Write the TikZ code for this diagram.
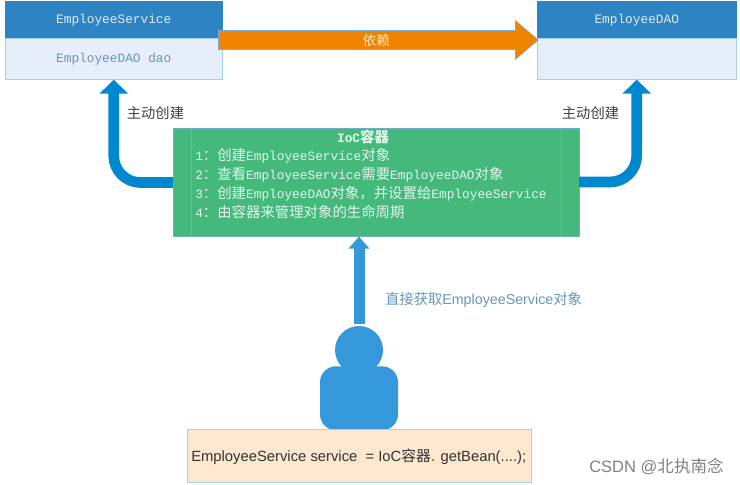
\documentclass[tikz,border=0pt]{standalone}
\usepackage{fontspec}
\usepackage{xcolor}
\usetikzlibrary{arrows.meta}
\setmainfont{Liberation Sans}
\newfontfamily\cjk{Noto Sans CJK SC}
\newfontfamily\codefont{Liberation Mono}
\newcommand{\cn}[1]{{\cjk #1}}
\newcommand{\wcn}[1]{{\cjk\fontsize{10.8}{11}\selectfont #1}}
\newcommand{\wcolon}{\wcn{\char"FF1A}}
\newcommand{\wcomma}{\wcn{\char"FF0C}}

\definecolor{headblue}{HTML}{2E83C3}
\definecolor{bodyblue}{HTML}{E6EEF9}
\definecolor{edgeblue}{HTML}{A9CFEF}
\definecolor{textblue}{HTML}{6596BC}
\definecolor{iocgreen}{HTML}{45B97C}
\definecolor{iocedge}{HTML}{6FB0C8}
\definecolor{createblue}{HTML}{0088CE}
\definecolor{userblue}{HTML}{3498DB}
\definecolor{codeorange}{HTML}{FDE8CF}
\definecolor{dependorange}{HTML}{F08300}

\tikzset{
  headbox/.style={draw=headblue, fill=headblue, text=white!85!headblue, anchor=north west, minimum height=27.75pt, inner sep=0pt, font=\codefont\fontsize{9.6}{11}\selectfont},
  bodybox/.style={draw=edgeblue, fill=bodyblue, text=textblue, anchor=north west, minimum height=30.75pt, inner sep=0pt, font=\codefont\fontsize{9.6}{11}\selectfont},
  createarrow/.style={draw=createblue, line width=8pt, rounded corners=20pt, -{Triangle[length=10.5pt,width=20.5pt]}},
  tiplabel/.style={text=black!75, font=\cjk\fontsize{10.7}{12}\selectfont},
  iocline/.style={text=white!85!iocgreen, anchor=west, inner sep=0pt, font=\codefont\fontsize{9.6}{11}\selectfont},
}

\begin{document}
\begin{tikzpicture}[x=0.75pt, y=-0.75pt]
\useasboundingbox (0,0) rectangle (740,485);

% left and right classes
\node[headbox, minimum width=162.75pt] (servicehead) at (5,1) {EmployeeService};
\node[bodybox, minimum width=162.75pt] (servicebody) at (5,38) {EmployeeDAO dao};
\node[headbox, minimum width=149.25pt] (daohead) at (537,1) {EmployeeDAO};
\node[bodybox, minimum width=149.25pt] (daobody) at (537,38) {};

% container
\node[draw=iocedge, fill=iocgreen, anchor=north west, minimum width=304.5pt, minimum height=81pt] (ioc) at (173,128) {};
\draw[iocedge] (191,128) -- (191,236);
\draw[iocedge] (561.5,128) -- (561.5,236);
\node[iocline, anchor=center, font=\codefont\bfseries\fontsize{9.6}{11}\selectfont] (ioctitle) at (363,137) {IoC\wcn{容器}};
\node[iocline] (line1) at (195,156) {1\wcolon\wcn{创建}EmployeeService\wcn{对象}};
\node[iocline] (line2) at (195,175) {2\wcolon\wcn{查看}EmployeeService\wcn{需要}EmployeeDAO\wcn{对象}};
\node[iocline] (line3) at (195,194) {3\wcolon\wcn{创建}EmployeeDAO\wcn{对象}\wcomma\wcn{并设置给}EmployeeService};
\node[iocline] (line4) at (195,212) {4\wcolon\wcn{由容器来管理对象的生命周期}};

% user
\node[circle, fill=userblue, minimum size=36pt, inner sep=0pt] (userhead) at (359,350) {};
\node[fill=userblue, rounded corners=12pt, anchor=north, minimum width=58.5pt, minimum height=48pt, inner sep=0pt] (userbody) at (359,366) {};
\node[draw=edgeblue, fill=codeorange, anchor=north west, minimum width=258pt, minimum height=39.75pt, inner sep=0pt] (code) at (187,429) {};
\node[anchor=west, inner sep=0pt, text=black!80, font=\fontsize{11.1}{12}\selectfont] (codetext) at (191,457) {EmployeeService service\ \ = IoC\cn{容器}. getBean(....);};

% arrows
\coordinate (dependfrom) at (218,40);
\coordinate (dependto) at (539,40);
\draw[edgeblue!60!headblue, line width=14.5pt, -{Triangle[length=18pt,width=29pt]}] (dependfrom) -- (dependto);
\draw[dependorange, line width=13.5pt, -{Triangle[length=16.5pt,width=27pt]}] ([xshift=0.7pt]dependfrom) -- ([xshift=-1pt]dependto) node[midway, xshift=-1.5pt, text=white!85!dependorange, font=\cjk\fontsize{10}{11}\selectfont] (dependlabel) {依赖};

\coordinate (iocleft) at (173,182.5);
\coordinate (iocright) at (579,182);
\draw[createarrow] (iocleft) -| (servicebody.south);
\draw[createarrow] (iocright) -| (daobody.south);
\draw[userblue, line width=8.25pt, shorten <=1.5pt, -{Triangle[length=9pt,width=15pt]}] (userhead.north) -- (userhead.north |- ioc.south);

% labels
\node[tiplabel] (leftlabel) at (155.5,113) {主动创建};
\node[tiplabel] (rightlabel) at (590.5,113) {主动创建};
\node[anchor=west, inner sep=0pt, text=textblue, font=\fontsize{10.7}{12}\selectfont] (getlabel) at (385,300) {\cn{直接获取}EmployeeService\cn{对象}};
\node[anchor=west, inner sep=0pt, text=black!50, font=\fontsize{12.4}{14}\selectfont] (mark) at (589,467) {CSDN @\cn{北执南念}};
\end{tikzpicture}
\end{document}
